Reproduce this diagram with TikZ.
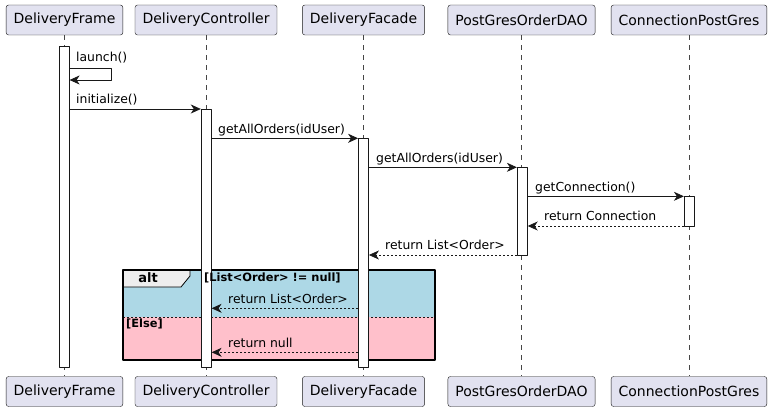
\documentclass[tikz,border=0pt]{standalone}
\usepackage{fontspec}
\setmainfont{DejaVu Sans}
\usetikzlibrary{arrows.meta}
\definecolor{partfill}{HTML}{E2E2F0}
\definecolor{partline}{HTML}{181818}
\definecolor{altblue}{HTML}{ADD8E6}
\definecolor{altpink}{HTML}{FFC0CB}
\definecolor{tabfill}{HTML}{EEEEEE}
\tikzset{
  seq/part/.style={draw=partline, fill=partfill, rounded corners=2.5pt, minimum height=30pt, inner xsep=7.5pt, font=\fontsize{14}{16}\selectfont},
  seq/life/.style={partline!80, dash pattern=on 5pt off 5pt, line width=0.5pt},
  seq/act/.style={draw=partline, fill=white, line width=0.8pt, minimum width=10pt, inner sep=0pt, anchor=north},
  seq/msg/.style={-{Stealth[length=10pt,width=9pt,inset=3pt]}, line width=0.8pt, draw=partline},
  seq/ret/.style={seq/msg, dash pattern=on 2pt off 2pt},
  seq/label/.style={font=\fontsize{12.4}{14}\selectfont, anchor=base west, inner sep=0pt},
  seq/guard/.style={font=\bfseries\fontsize{11.4}{13}\selectfont, anchor=base west, inner sep=0pt}
}

\begin{document}
\begin{tikzpicture}[x=1pt,y=-1pt, line join=round]
\useasboundingbox (0,0) rectangle (775,411);

% Participants
\node[seq/part] (pFrame)  at (64.5,20) {DeliveryFrame};
\node[seq/part] (pCtrl)   at (206,20)  {DeliveryController};
\node[seq/part] (pFacade) at (363.5,20) {DeliveryFacade};
\node[seq/part] (pDao)    at (521.5,20) {PostGresOrderDAO};
\node[seq/part] (pConn)   at (689,20)  {ConnectionPostGres};
\node[seq/part] (bFrame)  at (64.5,391.5) {DeliveryFrame};
\node[seq/part] (bCtrl)   at (206,391.5)  {DeliveryController};
\node[seq/part] (bFacade) at (363.5,391.5) {DeliveryFacade};
\node[seq/part] (bDao)    at (521.5,391.5) {PostGresOrderDAO};
\node[seq/part] (bConn)   at (689,391.5)  {ConnectionPostGres};

% Lifelines
\draw[seq/life] (pFrame) -- (bFrame);
\draw[seq/life] (pCtrl) -- (bCtrl);
\draw[seq/life] (pFacade) -- (bFacade);
\draw[seq/life] (pDao) -- (bDao);
\draw[seq/life] (pConn) -- (bConn);

% alt fragment
\fill[altblue] (123,270) rectangle (435,317);
\fill[altpink] (123,317) rectangle (435,360);
\draw[partline, line width=0.5pt, dash pattern=on 2pt off 2pt] (123,317) -- (435,317);
\draw[fill=tabfill, line width=0.8pt] (123,270) -- (190,270) -- (190,276) -- (181,287) -- (123,287) -- cycle;
\draw[line width=1.5pt] (123,270) rectangle (435,360);
\node[font=\bfseries\fontsize{13}{15}\selectfont, inner sep=0pt, anchor=base] (tAlt) at (148,282) {alt};

% Activations
\node[seq/act, minimum height=321pt] (actFrame)  at (64.2,46) {};
\node[seq/act, minimum height=258pt] (actCtrl)   at (206.2,109) {};
\node[seq/act, minimum height=229pt] (actFacade) at (363.5,138) {};
\node[seq/act, minimum height=88pt]  (actDao)    at (522.3,167) {};
\node[seq/act, minimum height=30pt]  (actConn)   at (689.3,196) {};

% Guards
\node[seq/guard] (gNotNull) at (204,281) {[List<Order> != null]};
\node[seq/guard] (gElse) at (126,327.5) {[Else]};

% Message rows
\coordinate (mLaunch) at (0,68);
\coordinate (mLaunchBack) at (0,80);
\coordinate (selfTurn) at (111,68);
\coordinate (mInit) at (0,109);
\coordinate (mGetA) at (0,138.3);
\coordinate (mGetB) at (0,167.3);
\coordinate (mConn) at (0,196.3);
\coordinate (mRetConn) at (0,226);
\coordinate (mRetList) at (0,255);
\coordinate (mRetAlt) at (0,308.3);
\coordinate (mRetNull) at (0,352.3);

% Messages
\draw[seq/msg] (actFrame.east |- mLaunch) -- (selfTurn) -- (selfTurn |- mLaunchBack) -- (actFrame.east |- mLaunchBack);
\node[seq/label] (lLaunch) at (76,62) {launch()};
\draw[seq/msg] (actFrame.east |- mInit) -- (actCtrl.west |- mInit);
\node[seq/label] (lInit) at (76,104) {initialize()};
\draw[seq/msg] (actCtrl.east |- mGetA) -- (actFacade.west |- mGetA);
\node[seq/label] (lGetA) at (218,133.3) {getAllOrders(idUser)};
\draw[seq/msg] (actFacade.east |- mGetB) -- (actDao.west |- mGetB);
\node[seq/label] (lGetB) at (376,162.3) {getAllOrders(idUser)};
\draw[seq/msg] (actDao.east |- mConn) -- (actConn.west |- mConn);
\node[seq/label] (lConn) at (535,191.3) {getConnection()};
\draw[seq/ret] (actConn.west |- mRetConn) -- (actDao.east |- mRetConn);
\node[seq/label] (lRetConn) at (544,221) {return Connection};
\draw[seq/ret] (actDao.west |- mRetList) -- (actFacade.east |- mRetList);
\node[seq/label] (lRetList) at (385,250) {return List<Order>};
\draw[seq/ret] (actFacade.west |- mRetAlt) -- (actCtrl.east |- mRetAlt);
\node[seq/label] (lRetAlt) at (228,303.3) {return List<Order>};
\draw[seq/ret] (actFacade.west |- mRetNull) -- (actCtrl.east |- mRetNull);
\node[seq/label] (lRetNull) at (228,347.3) {return null};
\end{tikzpicture}
\end{document}
